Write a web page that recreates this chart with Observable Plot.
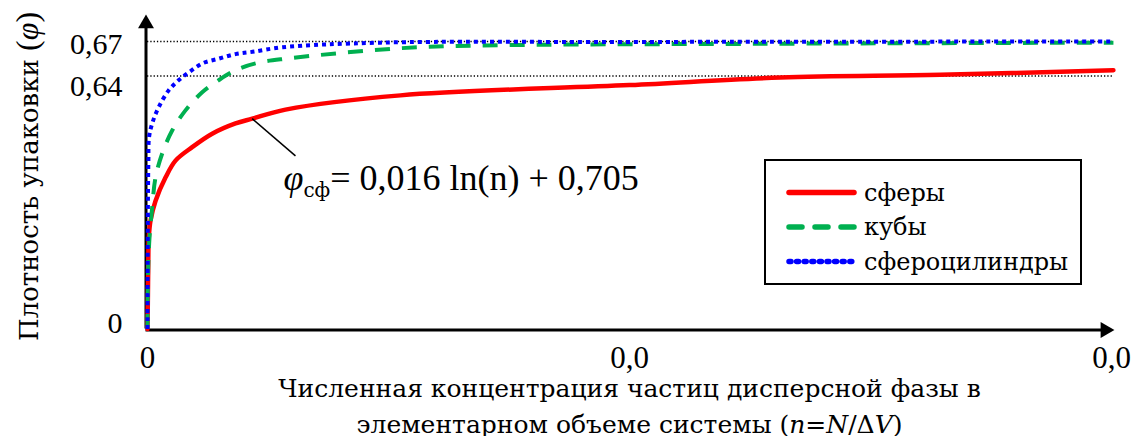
<!DOCTYPE html>
<html>
<head>
<meta charset="utf-8">
<script src="https://cdn.jsdelivr.net/npm/d3@7"></script>
<script src="https://cdn.jsdelivr.net/npm/@observablehq/plot@0.6"></script>
<style>
  html, body { margin: 0; padding: 0; background: #fff; }
  #chart svg { display: block; }
</style>
</head>
<body>
<div id="chart"></div>
<script>
// Numerical concentration n (x) and packing density φ (y) for each particle shape
const nSpheres   = [0, 0.0000062, 0.0000145, 0.000027, 0.0000622, 0.000166, 0.000373, 0.000581, 0.000927, 0.001342, 0.001826, 0.002172, 0.002863, 0.005249, 0.0100, 0.01313, 0.01645, 0.02004];
const phiSpheres = [0, 0.063, 0.147, 0.231, 0.274, 0.324, 0.383, 0.426, 0.460, 0.494, 0.520, 0.532, 0.555, 0.591, 0.617, 0.636, 0.641, 0.645];

const nCubes   = [0, 0.0000041, 0.0000145, 0.0000415, 0.0000975, 0.000166, 0.000305, 0.000512, 0.000788, 0.001135, 0.001473, 0.001826, 0.002241, 0.002863, 0.005187, 0.006909, 0.01278, 0.02004];
const phiCubes = [0, 0.079, 0.155, 0.231, 0.308, 0.383, 0.444, 0.502, 0.553, 0.599, 0.629, 0.645, 0.651, 0.655, 0.664, 0.6665, 0.668, 0.669];

const nSpherocyl   = [0, 0.0000041, 0.0000104, 0.0000187, 0.0000311, 0.0000975, 0.000228, 0.000436, 0.000643, 0.000851, 0.001141, 0.001473, 0.001826, 0.002178, 0.002801, 0.004834, 0.0100, 0.02004];
const phiSpherocyl = [0, 0.198, 0.350, 0.426, 0.484, 0.520, 0.560, 0.603, 0.629, 0.643, 0.651, 0.655, 0.659, 0.661, 0.665, 0.669, 0.6696, 0.670];

const seriesNames = ["сферы", "кубы", "сфероцилиндры"];

// Axis ticks and the dotted limit levels
const xTicks = [0, 0.01, 0.02];
const yTicks = [0, 0.64, 0.67];
const refLevels = [0.64, 0.67];

// Logarithmic trend for spheres: φ = a·ln(n) + b
const trendA = 0.016;
const trendB = 0.705;
const trendAnchorIndex = 11;                   // point on the spheres curve the leader starts from
const trendLabelAt = {n: 0.00307, phi: 0.438}; // where the leader ends and the label begins

// Extent of the drawn axis arrows (in data units)
const xAxisEnd = 0.01987;
const yAxisTop = 0.6855;

const comma = s => s.replace(".", ",");
const fmtX = d => d === 0 ? "0" : comma(d3.format(".1f")(d));
const fmtY = d => d === 0 ? "0" : comma(d3.format(".2f")(d));

const series = [
  {name: seriesNames[0], n: nSpheres,   phi: phiSpheres,   color: "#ff0000", width: 4.5, dash: null,   legendDash: null,    cap: "round"},
  {name: seriesNames[1], n: nCubes,     phi: phiCubes,     color: "#00b050", width: 4,   dash: "15,12", legendDash: "13,13", cap: "butt"},
  {name: seriesNames[2], n: nSpherocyl, phi: phiSpherocyl, color: "#0000ff", width: 4,   dash: "4,4",   legendDash: "2,5.6", cap: "butt"}
].map(s => ({...s, rows: s.n.map((n, i) => ({n, phi: s.phi[i]}))}));

const nMax = d3.max(series, s => d3.max(s.n));
const trendAnchor = series[0].rows[trendAnchorIndex];
const trendText = `φсф= ${comma(String(trendA))} ln(n) + ${comma(String(trendB))}`;

// vertical nudges of the y tick labels relative to their levels
const yLabelNudge = new Map([[0, -6], [0.64, 10], [0.67, 3]]);

// numbers and formulas in Liberation Serif, Cyrillic captions in DejaVu Serif
const fontFamily = "'Liberation Serif', 'Times New Roman', serif";
const cyrFamily = "'DejaVu Serif', 'Liberation Serif', serif";

const chart = Plot.plot({
  width: 1134,
  height: 436,
  marginLeft: 147,
  marginRight: 23,
  marginTop: 41,
  marginBottom: 107,
  style: {fontFamily, background: "#fff", color: "#000", overflow: "visible"},
  x: {type: "linear", domain: [0, 0.02], range: [147, 1111], axis: null},
  y: {type: "linear", domain: [0, 0.64, 0.67], range: [328.5, 75.5, 41], axis: null},
  marks: [
    // dotted limit levels
    Plot.ruleY(refLevels, {x1: 0, x2: nMax, stroke: "#000", strokeWidth: 1.3, strokeDasharray: "1.3,2"}),
    // axes
    Plot.ruleX([0], {y1: 0, y2: yAxisTop, stroke: "#000", strokeWidth: 3, dx: -1.5}),
    Plot.ruleY([0], {x1: 0, x2: xAxisEnd, stroke: "#000", strokeWidth: 3, dy: 1, strokeLinecap: "square"}),
    Plot.dot([{n: 0, phi: yAxisTop}], {x: "n", y: "phi", dx: -1.5, symbol: "triangle2", r: 7.6, fill: "#000"}),
    Plot.dot([{n: xAxisEnd, phi: 0}], {x: "n", y: "phi", dy: 1, symbol: "triangle2", r: 7.6, fill: "#000", rotate: 90}),
    // curves
    ...series.map(s => Plot.line(s.rows, {
      x: "n", y: "phi", curve: "catmull-rom",
      stroke: s.color, strokeWidth: s.width,
      strokeDasharray: s.dash ?? undefined, strokeLinecap: s.cap, strokeLinejoin: "round"
    })),
    // tick labels
    Plot.text(xTicks, {
      x: d => d, frameAnchor: "bottom", dy: 29, text: fmtX,
      lineAnchor: "middle", textAnchor: "middle", fontSize: 31, fontFamily
    }),
    ...yTicks.map(t => Plot.text([t], {
      y: d => d, frameAnchor: "left", dx: -25, dy: yLabelNudge.get(t),
      textAnchor: "end", lineAnchor: "middle", text: fmtY, fontSize: 30, fontFamily
    })),
    // axis titles
    Plot.text(["Плотность упаковки (φ)"], {
      frameAnchor: "left", rotate: -90, dx: -118, dy: -9,
      textAnchor: "middle", lineAnchor: "middle", fontSize: 26, fontFamily: cyrFamily
    }),
    Plot.text(["Численная концентрация частиц дисперсной фазы в\nэлементарном объеме системы (n=N/ΔV)"], {
      frameAnchor: "bottom", dy: 74, textAnchor: "middle", lineAnchor: "middle",
      fontSize: 25, lineHeight: 1.44, fontFamily: cyrFamily
    }),
    // trend annotation
    Plot.link([trendAnchor], {
      x1: "n", y1: "phi", x2: trendLabelAt.n, y2: trendLabelAt.phi,
      stroke: "#000", strokeWidth: 1.5
    }),
    Plot.text([trendText], {
      x: trendLabelAt.n, y: trendLabelAt.phi, dx: -12, dy: 34,
      textAnchor: "start", lineAnchor: "bottom", fontSize: 36, fontFamily
    })
  ]
});

const svg = d3.select(chart);

// rich text: italic symbols and the subscript
svg.selectAll("text").each(function() {
  const el = d3.select(this);
  const txt = this.textContent;
  if (txt === trendText) {
    el.text(null);
    el.append("tspan").attr("font-style", "italic").text("φ");
    el.append("tspan").attr("font-family", cyrFamily).attr("font-size", 20).attr("dy", 7).text("сф");
    el.append("tspan").attr("dy", -7).text(txt.slice(3));
  } else if (txt === "Плотность упаковки (φ)") {
    el.text(null);
    el.append("tspan").text("Плотность упаковки ");
    el.append("tspan").attr("font-family", fontFamily).attr("font-size", 32).text("(");
    el.append("tspan").attr("font-family", fontFamily).attr("font-size", 32).attr("font-style", "italic").text("φ");
    el.append("tspan").attr("font-family", fontFamily).attr("font-size", 32).text(")");
  }
});
svg.selectAll("tspan").each(function() {
  if (this.textContent === "элементарном объеме системы (n=N/ΔV)") {
    this.innerHTML = 'элементарном объеме системы (<tspan font-style="italic">n</tspan>=<tspan font-style="italic">N</tspan>/Δ<tspan font-style="italic">V</tspan>)';
  }
});

// legend
const legend = svg.append("g")
  .attr("font-family", cyrFamily)
  .attr("font-size", 24)
  .attr("text-anchor", "start");
legend.append("rect")
  .attr("x", 765).attr("y", 160).attr("width", 316).attr("height", 124)
  .attr("fill", "#fff").attr("stroke", "#000").attr("stroke-width", 2);
series.forEach((s, i) => {
  const y = 192.5 + i * 34.5;
  legend.append("line")
    .attr("x1", 789).attr("x2", 854).attr("y1", y).attr("y2", y)
    .attr("stroke", s.color).attr("stroke-width", 5.5)
    .attr("stroke-linecap", "round")
    .attr("stroke-dasharray", s.legendDash);
  legend.append("text")
    .attr("x", 864).attr("y", y + 8)
    .attr("fill", "#000")
    .text(s.name);
});

document.getElementById("chart").append(chart);
</script>
</body>
</html>
